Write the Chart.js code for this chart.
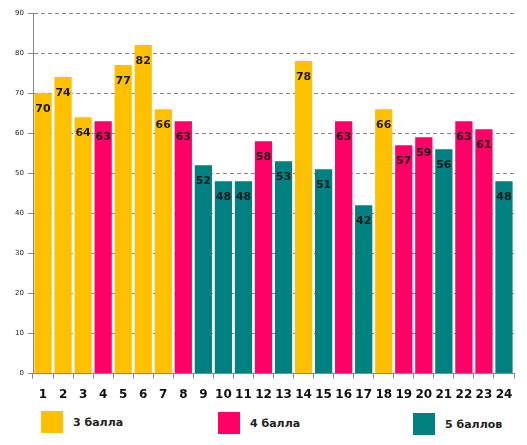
<!DOCTYPE html>
<html><head><meta charset="utf-8">
<script src="https://cdn.jsdelivr.net/npm/chart.js@4/dist/chart.umd.min.js"></script>
<style>
html,body{margin:0;padding:0;background:#fff;}
#wrap{position:relative;width:527px;height:445px;}
canvas{position:absolute;left:0;top:0;}
.leg{position:absolute;font-family:"DejaVu Sans",sans-serif;font-weight:bold;font-size:11px;color:#222;display:flex;align-items:center;}
.sw{width:22px;height:22px;margin-right:10px;}
</style></head>
<body><div id="wrap"><canvas id="c" width="527" height="411"></canvas>
<div class="leg" style="left:41px;top:411px;"><div class="sw" style="background:#FFC000"></div>3 балла</div>
<div class="leg" style="left:218px;top:412px;"><div class="sw" style="background:#FF0066"></div>4 балла</div>
<div class="leg" style="left:413px;top:413px;"><div class="sw" style="background:#008080"></div>5 баллов</div>
</div>
<script>
const categories = ["1","2","3","4","5","6","7","8","9","10","11","12","13","14","15","16","17","18","19","20","21","22","23","24"];
const values = [70,74,64,63,77,82,66,63,52,48,48,58,53,78,51,63,42,66,57,59,56,63,61,48];
const grades = [3,3,3,4,3,3,3,4,5,5,5,4,5,3,5,4,5,3,4,4,5,4,4,5];
const gradeColors = {3:"#FFC000",4:"#FF0066",5:"#008080"};
const yTicks = [0,10,20,30,40,50,60,70,80,90];

const labelPlugin = {
  id:'lbl',
  afterDatasetsDraw(chart){
    const ctx = chart.ctx;
    const meta = chart.getDatasetMeta(0);
    ctx.save();
    ctx.font = 'bold 11px "DejaVu Sans", sans-serif';
    ctx.fillStyle = '#1a1a1a';
    ctx.textAlign = 'center';
    ctx.textBaseline = 'middle';
    meta.data.forEach((b,i)=>{
      ctx.fillText(String(values[i]), b.x, b.y + 16);
    });
    ctx.restore();
  }
};

new Chart(document.getElementById('c'),{
  type:'bar',
  data:{labels:categories,datasets:[{data:values,backgroundColor:grades.map(g=>gradeColors[g]),barPercentage:0.86,categoryPercentage:1.0}]},
  options:{
    responsive:false,animation:false,
    layout:{padding:{left:0,right:13,top:13,bottom:0}},
    plugins:{legend:{display:false},tooltip:{enabled:false}},
    scales:{
      x:{
        offset:true,
        grid:{display:true,drawOnChartArea:false,drawTicks:true,tickLength:5,offset:true,color:'#888'},
        border:{display:true,color:'#888',width:1},
        ticks:{font:{family:'"DejaVu Sans", sans-serif',weight:'bold',size:12},color:'#111',padding:9,maxRotation:0,autoSkip:false}
      },
      y:{
        min:0,max:90,
        afterBuildTicks(ax){ax.ticks = yTicks.map(v=>({value:v}));},
        afterFit(ax){ax.width = 33;},
        grid:{color:'#888',tickLength:5,tickColor:'#888',tickBorderDash:[1,0]},
        border:{display:true,color:'#888',width:1,dash:[4,3]},
        ticks:{font:{family:'"DejaVu Sans", sans-serif',size:7},color:'#222',padding:4}
      }
    }
  },
  plugins:[labelPlugin]
});
</script>
</body></html>
